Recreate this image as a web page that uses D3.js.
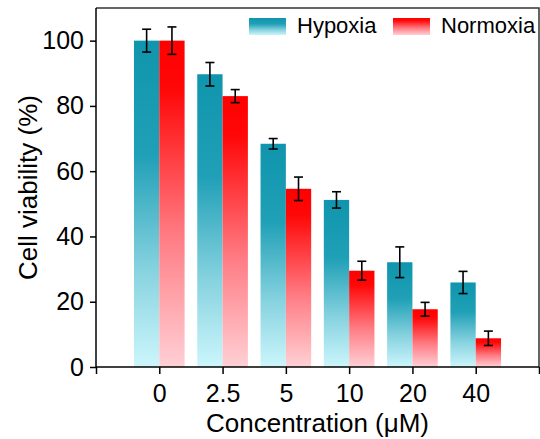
<!DOCTYPE html>
<html>
<head>
<meta charset="utf-8">
<script src="https://cdn.jsdelivr.net/npm/d3@7"></script>
<style>
  body { margin: 0; background: #fff; }
  svg { font-family: "Liberation Sans", Arial, sans-serif; }
</style>
</head>
<body>
<svg></svg>
<script>
var width = 540;
var height = 439;

var concentrations = ['0', '2.5', '5', '10', '20', '40'];
var hypoxia = [100, 89.7, 68.4, 51.2, 32.1, 25.9];
var hypoxiaErr = [3.5, 3.6, 1.6, 2.5, 4.7, 3.4];
var normoxia = [100, 83.0, 54.6, 29.5, 17.7, 8.8];
var normoxiaErr = [4.2, 2.0, 3.6, 2.9, 2.1, 2.2];
var yTicks = [0, 20, 40, 60, 80, 100];

var svg = d3.select('svg').attr('width', width).attr('height', height);

var plotLeft = 96, plotRight = 539, plotTop = 8, plotBottom = 367;

var xScale = d3.scaleLinear()
               .domain([-1, concentrations.length])
               .range([plotLeft, plotRight]);

var yScale = d3.scaleLinear()
               .domain([0, 110])
               .range([plotBottom, plotTop]);

var step = xScale(1) - xScale(0);
var barW = step * 0.4;

// gradients
var defs = svg.append('defs');
function gradient(id, stops) {
  var g = defs.append('linearGradient').attr('id', id)
    .attr('x1', 0).attr('y1', 0).attr('x2', 0).attr('y2', 1);
  stops.forEach(function(s) {
    g.append('stop').attr('offset', s[0]).attr('stop-color', s[1]);
  });
}
gradient('gTeal', [[0, '#0f95ad'], [0.35, '#20a0b7'], [0.7, '#86d2df'], [1, '#ccf6fc']]);
gradient('gRed', [[0, '#ff0000'], [0.15, '#ff0808'], [0.6, '#ff7c84'], [1, '#ffd0d5']]);

var series = [
  {name: 'Hypoxia', values: hypoxia, errs: hypoxiaErr, fill: 'url(#gTeal)', offset: -1},
  {name: 'Normoxia', values: normoxia, errs: normoxiaErr, fill: 'url(#gRed)', offset: 0}
];

// bars
series.forEach(function(s) {
  svg.append('g').selectAll('rect')
    .data(s.values)
    .enter()
    .append('rect')
    .attr('x', function(d, i) { return xScale(i) + s.offset * barW; })
    .attr('y', function(d) { return yScale(d); })
    .attr('width', barW)
    .attr('height', function(d) { return yScale(0) - yScale(d); })
    .attr('fill', s.fill);
});

// error bars
series.forEach(function(s) {
  var g = svg.append('g').attr('stroke', '#000').attr('stroke-width', 1.6);
  s.values.forEach(function(d, i) {
    var cx = xScale(i) + s.offset * barW + barW / 2;
    var hi = yScale(d + s.errs[i]), lo = yScale(d - s.errs[i]);
    g.append('line').attr('x1', cx).attr('x2', cx).attr('y1', hi).attr('y2', lo);
    g.append('line').attr('x1', cx - 4.5).attr('x2', cx + 4.5).attr('y1', hi).attr('y2', hi);
    g.append('line').attr('x1', cx - 4.5).attr('x2', cx + 4.5).attr('y1', lo).attr('y2', lo);
  });
});

// frame top/right
svg.append('path')
  .attr('d', 'M' + plotLeft + ',' + plotTop + 'H' + plotRight + 'V' + plotBottom)
  .attr('fill', 'none').attr('stroke', '#333').attr('stroke-width', 1.5);

// axes
var xAxis = d3.axisBottom(xScale)
  .tickValues(d3.range(-1, concentrations.length + 1))
  .tickFormat(function(d) { return concentrations[d] || ''; })
  .tickSize(7).tickPadding(10);

var gx = svg.append('g').attr('transform', 'translate(0,' + plotBottom + ')').call(xAxis);
gx.select('.domain').attr('d', 'M' + plotLeft + ',0H' + plotRight).attr('stroke-width', 1.5);
gx.selectAll('.tick line').attr('stroke-width', 1.5);
gx.selectAll('text').attr('font-size', 25).attr('fill', '#000');

var yAxis = d3.axisLeft(yScale).tickValues(yTicks).tickSize(6).tickPadding(6);
var gy = svg.append('g').attr('transform', 'translate(' + plotLeft + ',0)').call(yAxis);
gy.select('.domain').attr('d', 'M0,' + plotTop + 'V' + plotBottom).attr('stroke-width', 1.5);
gy.selectAll('.tick line').attr('stroke-width', 1.5);
gy.selectAll('text').attr('font-size', 25).attr('fill', '#000');

// axis titles
svg.append('text')
  .attr('x', (plotLeft + plotRight) / 2).attr('y', 432)
  .attr('text-anchor', 'middle').attr('font-size', 26)
  .text('Concentration (μM)');

svg.append('text')
  .attr('transform', 'translate(37,' + (plotTop + plotBottom) / 2 + ') rotate(-90)')
  .attr('text-anchor', 'middle').attr('font-size', 26)
  .text('Cell viability (%)');

// legend
var legend = [
  {name: 'Hypoxia', fill: 'url(#gTeal)', x: 249},
  {name: 'Normoxia', fill: 'url(#gRed)', x: 393}
];
var lg = svg.append('g').selectAll('g').data(legend).enter().append('g');
lg.append('rect')
  .attr('x', function(d) { return d.x; }).attr('y', 18)
  .attr('width', 37).attr('height', 17)
  .attr('fill', function(d) { return d.fill; });
lg.append('text')
  .attr('x', function(d) { return d.x + 48; }).attr('y', 33)
  .attr('font-size', 22)
  .text(function(d) { return d.name; });
</script>
</body>
</html>
